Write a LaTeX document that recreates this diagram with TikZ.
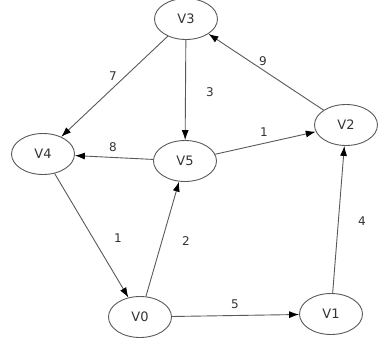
\documentclass[tikz,border=0pt]{standalone}
\usepackage{fontspec}
\setmainfont{DejaVu Sans}
\usetikzlibrary{shapes.geometric,arrows.meta}
\begin{document}
\begin{tikzpicture}[x=1pt,y=-1pt,
  vnode/.style={ellipse,draw=black!65,line width=0.9pt,minimum width=63pt,minimum height=41pt,inner sep=0pt,font=\fontsize{13}{15}\selectfont,text=black!80},
  edge/.style={draw=black!65,line width=0.9pt,-{Latex[length=10pt,width=7pt,color=black]}},
  elabel/.style={font=\fontsize{12}{14}\selectfont,text=black!80}]
\useasboundingbox (0,0) rectangle (381,343);
\node[vnode] (v3) at (186,19) {V3};
\node[vnode] (v2) at (346,125) {V2};
\node[vnode] (v4) at (43,154) {V4};
\node[vnode] (v5) at (185,161) {V5};
\node[vnode] (v0) at (140,317) {V0};
\node[vnode] (v1) at (331,314) {V1};
\draw[edge] (v3) -- (v4);
\draw[edge] (v3) -- (v5);
\draw[edge] (v2) -- (v3);
\draw[edge] (v5) -- (v4);
\draw[edge] (v5) -- (v2);
\draw[edge] (v4) -- (v0);
\draw[edge] (v0) -- (v5);
\draw[edge] (v0) -- (v1);
\draw[edge] (v1) -- (v2);
\node[elabel] (l7) at (113,76) {7};
\node[elabel] (l3) at (210,92) {3};
\node[elabel] (l9) at (263,61) {9};
\node[elabel] (l8) at (113,147) {8};
\node[elabel] (l1a) at (264,132) {1};
\node[elabel] (l1b) at (118,238) {1};
\node[elabel] (l2) at (186,241) {2};
\node[elabel] (l5) at (235,304) {5};
\node[elabel] (l4) at (362,221) {4};
\end{tikzpicture}
\end{document}
